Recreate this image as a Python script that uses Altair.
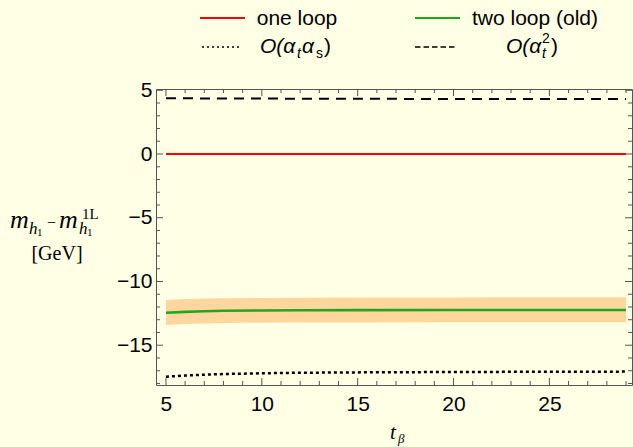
import altair as alt
import pandas as pd

# ---------------- data ----------------
tb = [5, 6, 7, 8, 10, 12, 15, 20, 25, 29]
one_loop = [0, 0, 0, 0, 0, 0, 0, 0, 0, 0]
two_loop_old = [-12.45, -12.38, -12.33, -12.30, -12.27, -12.26, -12.25, -12.24, -12.24, -12.24]
band_upper = [-11.45, -11.38, -11.34, -11.31, -11.29, -11.28, -11.26, -11.25, -11.24, -11.24]
band_lower = [-13.41, -13.33, -13.29, -13.26, -13.23, -13.22, -13.21, -13.20, -13.20, -13.20]
o_at_as = [-17.47, -17.38, -17.31, -17.26, -17.20, -17.16, -17.13, -17.10, -17.08, -17.07]
o_at2 = [4.37, 4.37, 4.36, 4.36, 4.35, 4.34, 4.33, 4.32, 4.31, 4.31]

x_major = [5, 10, 15, 20, 25]
x_minor = [v for v in range(5, 30) if v not in x_major]
y_major = [-15, -10, -5, 0, 5]
y_minor = [v for v in range(-18, 6) if v not in y_major]

W, H = 476, 296
XS = alt.Scale(domain=[4.48, 29.31], nice=False, zero=False)
YS = alt.Scale(domain=[-18.12, 5.1], nice=False, zero=False)
AX = alt.Axis(values=x_major, ticks=False, tickSize=0, domain=False, grid=False,
              labelPadding=8, title=None)
AY = alt.Axis(values=y_major, ticks=False, tickSize=0, domain=False, grid=False,
              labelPadding=4, title=None)

df = pd.DataFrame({"tb": tb, "one": one_loop, "two": two_loop_old,
                   "up": band_upper, "lo": band_lower,
                   "atas": o_at_as, "at2": o_at2})

base = alt.Chart(df)

band = base.mark_area(color="#FFD79E", opacity=1).encode(
    x=alt.X("tb:Q", scale=XS, axis=AX),
    y=alt.Y("up:Q", scale=YS, axis=AY),
    y2="lo:Q",
)

def line(field, color, width, dash=None):
    kw = dict(color=color, strokeWidth=width)
    if dash:
        kw["strokeDash"] = dash
    return base.mark_line(**kw).encode(
        x=alt.X("tb:Q", scale=XS, axis=AX),
        y=alt.Y(field + ":Q", scale=YS, axis=AY),
    )

l_one = line("one", "#FF0000", 2)
l_two = line("two", "#1FA81F", 2.6)
l_atas = line("atas", "#000000", 2.5, [3, 3])
l_at2 = line("at2", "#000000", 2, [10, 7])

# ---------------- frame ticks (inward) ----------------
TC = "#555555"

def xticks(vals, ln):
    d = alt.Chart(pd.DataFrame({"v": vals}))
    b = d.mark_rule(color=TC, strokeWidth=1).encode(
        x=alt.X("v:Q", scale=XS, axis=AX), y=alt.value(H), y2=alt.value(H - ln))
    t = d.mark_rule(color=TC, strokeWidth=1).encode(
        x=alt.X("v:Q", scale=XS, axis=AX), y=alt.value(0), y2=alt.value(ln))
    return [b, t]

def yticks(vals, ln):
    d = alt.Chart(pd.DataFrame({"v": vals}))
    l = d.mark_rule(color=TC, strokeWidth=1).encode(
        y=alt.Y("v:Q", scale=YS, axis=AY), x=alt.value(0), x2=alt.value(ln))
    r = d.mark_rule(color=TC, strokeWidth=1).encode(
        y=alt.Y("v:Q", scale=YS, axis=AY), x=alt.value(W), x2=alt.value(W - ln))
    return [l, r]

ticks = xticks(x_major, 7) + xticks(x_minor, 4) + yticks(y_major, 7) + yticks(y_minor, 4)

# ---------------- annotations ----------------
one = pd.DataFrame({"a": [0]})

def txt(s, x, y, size, font="Liberation Sans", style="normal", align="left", baseline="alphabetic"):
    return alt.Chart(one).mark_text(
        text=s, font=font, fontSize=size, fontStyle=style, align=align,
        baseline=baseline, color="black"
    ).encode(x=alt.value(x), y=alt.value(y))

def seg(x1, x2, y, color, width, dash=None):
    kw = dict(color=color, strokeWidth=width)
    if dash:
        kw["strokeDash"] = dash
    return alt.Chart(one).mark_rule(**kw).encode(
        x=alt.value(x1), x2=alt.value(x2), y=alt.value(y))

SERIF = "Liberation Serif"
legend = [
    seg(44, 89, -71, "#FF0000", 1.8),
    txt("one loop", 141, -64, 21, align="center"),
    seg(259, 304, -71, "#1FA81F", 2),
    txt("two loop (old)", 379, -64, 21, align="center"),
    seg(46, 86, -42, "#000000", 1.6, [2, 3]),
    txt("O(α", 104, -36, 21, style="italic"),
    txt("t", 141, -31, 14, style="italic"),
    txt("α", 146, -36, 21, style="italic"),
    txt("s", 160, -31, 14),
    txt(")", 168, -36, 21),
    seg(259, 300, -42, "#000000", 1.6, [5.5, 3]),
    txt("O(α", 350, -36, 21, style="italic"),
    txt("t", 386, -31, 14, style="italic"),
    txt("2", 386, -46, 14),
    txt(")", 395, -36, 21),
]

ytitle = [
    txt("m", -146, 139, 26, font=SERIF, style="italic"),
    txt("h", -127, 145, 17, font=SERIF, style="italic"),
    txt("1", -119, 147, 11, font=SERIF),
    txt("−", -109, 139, 16, font=SERIF),
    txt("m", -97, 139, 26, font=SERIF, style="italic"),
    txt("h", -77, 145, 17, font=SERIF, style="italic"),
    txt("1", -69, 147, 11, font=SERIF),
    txt("1L", -74, 130, 15, font=SERIF),
    txt("[GeV]", -99, 171, 20, font=SERIF, align="center"),
]

xtitle = [
    txt("t", 234, 350, 21, font=SERIF, style="italic"),
    txt("β", 242, 354, 13, font=SERIF, style="italic"),
]

chart = alt.layer(band, l_one, l_two, l_atas, l_at2, *ticks, *legend, *ytitle, *xtitle).properties(
    width=W, height=H,
    background="#FFFFE5",
    autosize=alt.AutoSizeParams(type="none"),
    padding={"left": 156, "top": 89, "right": 1, "bottom": 62},
).configure_view(
    stroke="#555555", strokeWidth=1, fill="#FFFFE5"
).configure_axis(
    labelFont="Liberation Sans", labelFontSize=21, labelColor="black"
)

chart.save("out.html", embed_options={"renderer": "svg", "actions": False})
